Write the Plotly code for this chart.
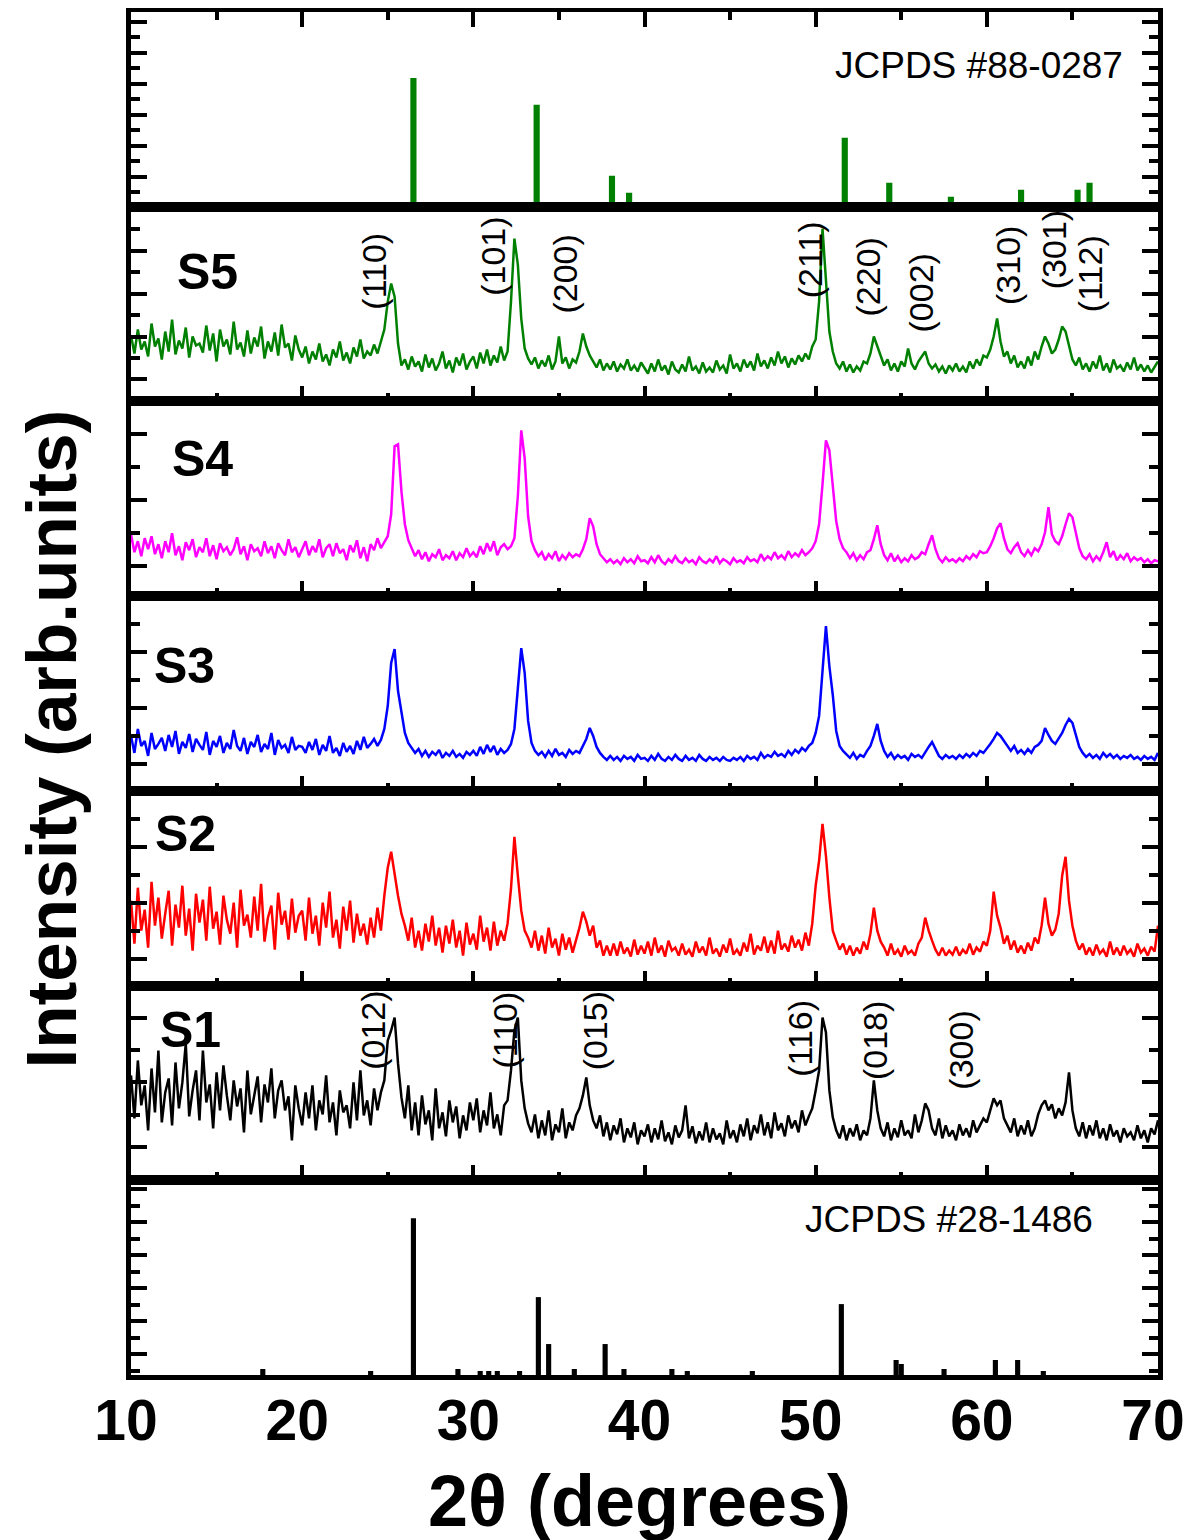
import numpy as np
import plotly.graph_objects as go
from plotly.subplots import make_subplots

# ---------------- data ----------------
# 2-theta sampling grid (degrees), 0.2 deg step
two_theta = np.round(np.arange(10.0, 70.0001, 0.2), 1)

s5 = [66,48,72,52,60,45,78,55,63,42, 70,50,82,47,61,53,74,44,65,56, 58,49,76,51,68,40,72,55,62,47, 80,52,59,45,71,48,64,55,75,43, 60,50,69,46,77,54,58,41,66,52,
      44,55,38,50,42,58,40,47,36,52, 44,60,41,49,38,54,45,62,43,50, 46,57,48,60,72,100,118,105,58,36, 42,32,45,35,40,30,47,34,43,31, 38,50,33,41,29,44,36,48,32,40,
      45,33,49,38,52,36,46,39,55,41, 50,100,163,137,83,53,43,37,44,33, 41,35,46,32,40,65,38,44,33,42, 39,50,68,55,46,40,34,42,31,38, 32,40,30,37,33,42,31,36,30,39,
      34,28,38,30,42,31,36,27,40,32, 29,37,30,45,31,35,28,39,30,34, 29,41,32,36,28,47,33,38,30,42, 34,40,31,48,35,41,33,44,36,50, 38,45,34,43,37,46,40,48,42,55,
      62,100,173,120,70,50,38,33,40,30, 37,29,35,31,40,38,48,65,56,45, 36,42,31,38,30,40,35,53,38,32, 40,45,50,38,33,37,30,35,28,36, 31,38,30,35,29,40,33,42,36,46,
      44,52,65,83,60,45,50,38,46,34, 40,33,45,36,50,42,55,65,58,48, 52,62,75,70,55,42,36,44,32,38, 30,40,33,46,31,38,29,42,33,36, 30,39,32,44,31,37,30,36,29,35,
      40]

s4 = [62,44,55,40,58,47,60,42,52,38, 55,44,63,41,50,36,54,46,57,39, 49,44,58,40,51,37,53,45,49,41, 47,59,42,50,36,52,45,48,40,55, 43,50,38,53,46,41,57,44,49,39,
      47,55,41,50,44,57,39,48,52,40, 53,43,47,36,51,44,56,38,49,35, 52,46,58,48,54,60,82,150,152,105, 72,56,48,40,46,37,44,35,42,39, 47,36,41,38,45,36,43,39,48,40,
      44,39,50,42,53,45,55,41,49,52, 47,50,58,100,166,138,80,55,46,40, 44,36,42,38,45,35,41,37,43,39, 42,40,47,57,78,70,52,42,38,34, 37,33,36,32,38,34,37,33,40,35,
      36,33,39,34,41,35,32,37,34,40, 35,33,38,34,36,32,39,35,33,37, 34,40,33,37,35,32,38,34,36,33, 39,35,37,34,42,36,40,37,44,38, 41,37,45,39,43,40,46,41,44,48,
      55,72,112,156,146,110,75,57,48,44, 38,43,36,41,37,44,46,57,71,52, 41,36,43,35,40,34,38,35,41,37, 39,44,42,52,61,47,38,34,39,35, 37,34,38,35,40,37,42,39,45,43,
      44,50,58,68,73,58,47,43,49,53, 44,40,46,41,48,45,52,64,89,62, 55,52,60,72,83,79,62,48,40,37, 42,35,40,36,44,54,39,45,36,41, 37,43,35,39,36,38,34,37,33,36,
      35]

s3 = [55,38,62,45,50,35,58,42,47,53, 40,56,44,60,37,49,43,57,39,52, 46,41,59,36,50,44,55,38,48,42, 61,45,40,53,37,49,44,56,39,47, 42,58,36,51,43,46,38,54,41,45,
      44,38,49,41,52,36,46,40,55,38, 43,35,48,39,45,37,50,41,54,43, 47,52,45,51,62,85,128,142,100,78, 58,48,43,38,42,35,40,34,39,36, 41,33,38,35,40,34,37,33,39,36,
      40,35,44,37,46,39,45,36,42,38, 41,47,62,100,143,118,70,48,40,36, 39,34,40,35,42,36,38,34,41,37, 40,38,45,52,63,55,44,38,34,31, 35,31,34,30,35,32,34,30,36,32,
      33,30,35,31,37,32,30,34,31,36, 32,30,35,31,33,30,36,32,30,34, 31,33,30,34,31,30,33,31,34,30, 35,32,34,31,38,33,36,34,39,35, 37,34,40,36,41,38,43,40,45,48,
      58,75,120,165,125,96,60,45,40,36, 33,38,32,36,34,40,45,55,67,50, 40,34,38,32,36,33,35,31,37,34, 36,33,39,44,49,42,35,32,36,33, 35,32,36,33,37,34,38,35,40,38,
      42,47,52,58,55,50,44,40,45,38, 41,37,42,38,44,46,50,63,56,50, 47,52,58,66,72,68,55,44,38,34, 37,33,36,32,38,34,37,33,36,32, 35,33,36,32,34,31,35,32,34,31,
      38]

s2 = [85,42,98,55,76,38,104,60,88,47, 72,95,40,81,58,100,50,77,35,92, 63,86,45,99,57,74,41,90,66,52, 83,38,96,60,71,48,89,55,102,44, 68,80,36,93,61,75,46,87,53,70,
      75,45,88,52,70,40,83,58,94,48, 66,37,79,55,85,43,72,50,62,41, 68,48,78,55,90,118,134,110,90,72, 60,45,68,38,55,35,62,44,70,40, 58,33,60,42,66,38,55,30,63,41,
      52,36,70,44,58,35,64,40,55,45, 62,97,149,110,75,55,48,38,55,35, 50,32,58,38,47,30,52,36,48,33, 45,58,74,64,50,60,38,45,30,40, 30,42,30,44,32,38,29,46,31,40,
      32,44,30,48,33,40,29,45,35,38, 30,42,31,36,29,44,33,39,30,48, 32,37,29,41,33,47,31,36,30,43, 34,52,31,40,35,49,33,45,32,55, 36,42,34,50,38,46,35,53,40,62,
      100,125,162,130,88,55,45,36,42,31, 40,30,38,32,44,36,52,78,55,44, 38,30,42,31,36,29,40,32,35,30, 42,48,68,55,45,36,30,38,30,35, 31,39,30,36,32,42,31,38,34,44,
      40,55,94,70,58,42,50,36,45,33, 40,32,43,35,48,42,60,88,62,50, 56,72,110,129,85,60,45,36,42,31, 38,30,41,32,36,29,44,31,38,30, 40,32,36,29,42,33,37,30,39,34,
      60]

s1 = [105,62,120,75,95,50,112,68,130,58, 88,102,55,118,72,98,137,64,90,110, 60,130,78,96,52,108,70,115,85,60, 100,74,92,48,110,66,85,104,58,96, 78,112,62,90,100,70,84,40,95,72,
      55,88,62,95,50,80,66,105,58,78, 45,90,68,75,52,98,60,110,65,80, 55,92,70,88,100,140,150,163,117,83, 62,95,50,78,45,85,56,70,40,92, 52,68,44,80,58,74,42,65,50,78,
      60,82,48,70,55,88,52,66,45,75, 80,110,150,163,100,72,57,48,66,42, 60,45,70,40,56,48,72,42,58,50, 65,72,85,103,75,60,52,65,44,58, 40,55,46,62,38,52,43,58,36,50,
      44,56,38,52,41,60,39,48,36,55, 43,50,75,42,54,37,49,40,58,38, 52,41,47,36,60,42,50,38,56,44, 62,40,55,47,66,45,58,42,68,50, 57,44,65,52,60,48,70,55,64,72,
      90,110,163,148,90,63,50,42,55,40, 52,44,56,40,50,45,62,100,70,52, 44,58,40,52,43,60,45,50,42,66, 48,60,77,70,52,45,62,42,55,44, 50,40,56,45,52,43,60,48,55,62,
      58,70,82,75,80,62,55,48,62,44, 55,46,60,44,52,66,75,80,70,76, 62,72,65,78,108,70,52,44,58,42, 55,45,60,42,52,40,56,44,50,38, 52,44,48,40,55,42,50,38,52,46,
      60]

# Reference patterns (stick positions in degrees, relative intensities)
ref_top_pos = [26.5, 33.7, 38.1, 39.1, 51.7, 54.3, 57.9, 62.0, 65.3, 66.0]
ref_top_int = [129, 102, 31, 14, 69, 24, 10, 17, 17, 24]
ref_bot_pos = [17.7, 24.0, 26.5, 29.1, 30.4, 30.9, 31.4, 32.7, 33.8, 34.4, 35.9, 37.7, 38.8,
               41.6, 42.5, 46.3, 51.5, 54.7, 55.0, 57.5, 60.5, 61.8, 63.3]
ref_bot_int = [6, 4, 157, 6, 4, 4, 4, 4, 78, 31, 6, 31, 6,
               6, 4, 4, 71, 15, 11, 6, 15, 15, 4]

sample_names = ["S5", "S4", "S3", "S2", "S1"]
sample_colors = ["#008000", "#FF00FF", "#0000FF", "#FF0000", "#000000"]
sample_data = [s5, s4, s3, s2, s1]

s5_hkl = ["(110)", "(101)", "(200)", "(211)", "(220)", "(002)", "(310)", "(301)", "(112)"]
s5_hkl_x = [24.2, 31.1, 35.35, 49.65, 53.05, 56.15, 61.2, 63.9, 66.0]
s5_hkl_y = [130, 145, 128, 142, 125, 109, 136, 152, 128]
s1_hkl = ["(012)", "(110)", "(015)", "(116)", "(018)", "(300)"]
s1_hkl_x = [24.1, 31.85, 37.1, 49.1, 53.5, 58.5]
s1_hkl_y = [150, 150, 150, 142, 140, 130]

tick_labels = ["10", "20", "30", "40", "50", "60", "70"]

# ---------------- figure ----------------
FONT = "Liberation Sans, Arial, sans-serif"
fig = make_subplots(rows=7, cols=1, vertical_spacing=0)

fig.add_trace(go.Bar(x=ref_top_pos, y=ref_top_int, width=0.36, marker=dict(color="#008000", line=dict(width=0))), row=1, col=1)
for i, (nm, col, data) in enumerate(zip(sample_names, sample_colors, sample_data)):
    fig.add_trace(go.Scatter(x=two_theta, y=data, mode="lines",
                             line=dict(color=col, width=2.5), name=nm), row=i + 2, col=1)
fig.add_trace(go.Bar(x=ref_bot_pos, y=ref_bot_int, width=0.3, marker=dict(color="#000000", line=dict(width=0))), row=7, col=1)

fig.update_xaxes(range=[10, 70], showline=True, linewidth=5, linecolor="black", mirror=True,
                 ticks="inside", tickwidth=3.5, ticklen=15, tickcolor="black", tick0=10, dtick=10,
                 minor=dict(ticks="inside", dtick=5, ticklen=8, tickwidth=3.5, tickcolor="black"),
                 showticklabels=False, showgrid=False, zeroline=False)
fig.update_xaxes(side="top", row=1, col=1)
fig.update_xaxes(ticks="", minor=dict(ticks=""), showticklabels=True, tickmode="array",
                 tickvals=[10, 20, 30, 40, 50, 60, 70], ticktext=tick_labels,
                 tickfont=dict(family=FONT, size=57, color="black", weight="bold"),
                 ticklabelstandoff=-8, ticklabelshift=-5, row=7, col=1)

ytick_cfg = {1: (30, 31), 2: (22, 43), 3: (30, 66), 4: (27, 56), 5: (27, 56), 6: (33, 65), 7: (21, 33)}
for r, (t0, dt) in ytick_cfg.items():
    fig.update_yaxes(range=[0, 195], showline=True, linewidth=5, linecolor="black", mirror="ticks",
                     ticks="inside", tickwidth=3.5, ticklen=16, tickcolor="black", tick0=t0, dtick=dt,
                     minor=dict(ticks="inside", tick0=t0, dtick=dt / 2, ticklen=9, tickwidth=3.5, tickcolor="black"),
                     showticklabels=False, showgrid=False, zeroline=False, row=r, col=1)

ann = []
# sample labels
lab_x = [14.44, 14.2, 13.15, 13.2, 13.45]
lab_y = [130, 137, 125, 152, 151]
for i, nm in enumerate(sample_names):
    r = i + 2
    ann.append(dict(text=nm, x=lab_x[i], y=lab_y[i], xref=f"x{r}", yref=f"y{r}", showarrow=False,
                    font=dict(family=FONT, size=50, color="black", weight="bold")))
for t, x, y in zip(s5_hkl, s5_hkl_x, s5_hkl_y):
    ann.append(dict(text=t, x=x, y=y, xref="x2", yref="y2", showarrow=False, textangle=-90,
                    font=dict(family=FONT, size=34, color="black")))
for t, x, y in zip(s1_hkl, s1_hkl_x, s1_hkl_y):
    ann.append(dict(text=t, x=x, y=y, xref="x6", yref="y6", showarrow=False, textangle=-90,
                    font=dict(family=FONT, size=34, color="black")))
ann.append(dict(text="JCPDS #88-0287", x=68.1, y=141, xref="x", yref="y", xanchor="right", showarrow=False,
                font=dict(family=FONT, size=37, color="black")))
ann.append(dict(text="JCPDS #28-1486", x=66.3, y=156, xref="x7", yref="y7", xanchor="right", showarrow=False,
                font=dict(family=FONT, size=37, color="black")))
ann.append(dict(text="2θ (degrees)", x=0.4956, y=-0.0925, xref="paper", yref="paper", showarrow=False,
                yanchor="middle", font=dict(family=FONT, size=72, color="black", weight="bold")))
ann.append(dict(text="Intensity (arb.units)", x=-0.0775, y=0.4666, xref="paper", yref="paper", showarrow=False,
                textangle=-90, xanchor="center", yanchor="middle",
                font=dict(family=FONT, size=71, color="black", weight="bold")))

# page body has an 8 px margin, so the figure is sized to fit the 1200x1540 window
fig.update_layout(width=1192, height=1532, margin=dict(l=123, r=42, t=4, b=165),
                  paper_bgcolor="white", plot_bgcolor="white", showlegend=False,
                  annotations=ann, font=dict(family=FONT))

fig.write_html("out.html")
